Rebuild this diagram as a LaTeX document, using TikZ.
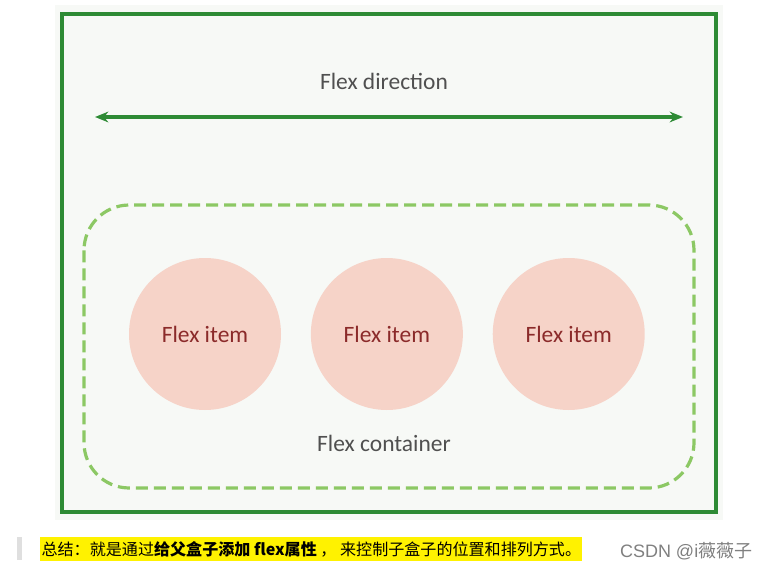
\documentclass[tikz,border=0pt]{standalone}
\usepackage{fontspec}
\setmainfont{Carlito}
\newfontfamily\cjk{Noto Sans CJK SC}
\newfontfamily\csdn{Liberation Sans}
\usepackage{tikz}
\usetikzlibrary{positioning}
\usetikzlibrary{arrows.meta}
\definecolor{boxgreen}{HTML}{2E8B35}
\definecolor{dashgreen}{HTML}{8CC864}
\definecolor{itemfill}{HTML}{F6D3C8}
\definecolor{itemtext}{HTML}{8B2A2A}
\definecolor{panel}{HTML}{F7F9F6}
\definecolor{label}{HTML}{505050}

\begin{document}
\begin{tikzpicture}[x=0.75pt, y=-0.75pt,
item/.style={circle, fill=itemfill, minimum size=114pt, inner sep=0pt,
  text=itemtext, font=\fontsize{17.6}{20}\selectfont},
caption/.style={text=label, font=\fontsize{17.6}{20}\selectfont}]
\useasboundingbox[fill=white] (0,0) rectangle (772,571);
\fill[panel] (55,5) rectangle (723,520);
\draw[boxgreen, line width=2.3pt] (62,14) rectangle (716,512);
\node[caption] (dir) at (384,81) {Flex direction};
\coordinate (left) at (95,117);
\coordinate (right) at (683,117);
\draw[boxgreen, line width=2.4pt, {Stealth[length=10pt,width=8pt]}-{Stealth[length=10pt,width=8pt]}] (left) -- (right);
\draw[dashgreen, line width=2.4pt, dash pattern=on 9pt off 4.5pt, rounded corners=34pt] (84,205) rectangle (694,488);
\node[item] (item1) at (205,334) {Flex item};
\node[item, right=22pt of item1] (item2) {Flex item};
\node[item, right=22pt of item2] (item3) {Flex item};
\node[caption] (cont) at (384,443) {Flex container};
% summary line
\fill[gray!25] (17,537) rectangle (22,560);
\node[fill=yellow, anchor=west, inner xsep=1pt, inner ysep=2pt, minimum height=18pt,
  font=\cjk\fontsize{12.05}{14}\selectfont] (sum) at (40,549)
  {总结：就是通过\textbf{给父盒子添加 flex属性} ， 来控制子盒子的位置和排列方式。};
\node[anchor=east, text=gray, font=\fontsize{13.5}{16}\selectfont] (src) at (757,551)
  {\csdn CSDN @i\cjk 薇薇子};
\end{tikzpicture}
\end{document}
